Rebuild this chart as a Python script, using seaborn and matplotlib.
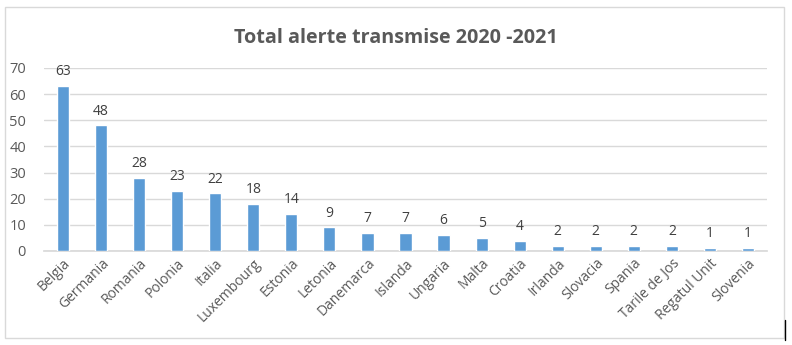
import matplotlib
matplotlib.use("Agg")
import matplotlib.pyplot as plt
from matplotlib.patches import Rectangle
from matplotlib.lines import Line2D
import seaborn as sns
import pandas as pd

countries = ["Belgia", "Germania", "Romania", "Polonia", "Italia", "Luxembourg",
             "Estonia", "Letonia", "Danemarca", "Islanda", "Ungaria", "Malta",
             "Croatia", "Irlanda", "Slovacia", "Spania", "Tarile de Jos",
             "Regatul Unit", "Slovenia"]
alerts = [63, 48, 28, 23, 22, 18, 14, 9, 7, 7, 6, 5, 4, 2, 2, 2, 2, 1, 1]
y_ticks = [0, 10, 20, 30, 40, 50, 60, 70]

df = pd.DataFrame({"tara": countries, "alerte": alerts})

sns.set_theme(style="white")
plt.rcParams["font.family"] = ["Open Sans", "DejaVu Sans"]

text_color = "#595959"
bar_color = "#5B9BD5"

fig = plt.figure(figsize=(7.92, 3.45), dpi=100)
ax = fig.add_axes([0.0556, 0.2725, 0.9128, 0.5305])

sns.barplot(data=df, x="tara", y="alerte", color=bar_color, width=0.32,
            saturation=1, ax=ax, zorder=3)

ax.set_ylim(0, 70)
ax.set_yticks(y_ticks)
ax.set_xlim(-0.5, len(countries) - 0.5)
ax.yaxis.grid(True, color="#D9D9D9", linewidth=1, zorder=0)
ax.xaxis.grid(False)
for s in ["top", "right", "left"]:
    ax.spines[s].set_visible(False)
ax.spines["bottom"].set_color("#D9D9D9")
ax.tick_params(axis="both", length=0, colors=text_color, labelsize=10)
ax.tick_params(axis="y", pad=13, labelsize=10.5)
ax.set_xlabel("")
ax.set_ylabel("")
plt.setp(ax.get_xticklabels(), rotation=45, ha="right", rotation_mode="anchor")

for i, v in enumerate(alerts):
    ax.annotate(str(v), (i, v), xytext=(0, 5), textcoords="offset points",
                ha="center", va="bottom", fontsize=10, color="#404040")

fig.text(0.5, 0.89, "Total alerte transmise 2020 -2021", ha="center",
         va="center", fontsize=14.2, fontweight="bold", color=text_color)

fig.patches.append(Rectangle((5 / 792, 7 / 345), 779 / 792, 331 / 345,
                             transform=fig.transFigure, fill=False,
                             edgecolor="#D9D9D9", linewidth=1))
fig.lines.append(Line2D([785 / 792, 785 / 792], [5 / 345, 25 / 345],
                        transform=fig.transFigure, color="black", linewidth=1))

fig.savefig("out.png", dpi=100, facecolor="white")
